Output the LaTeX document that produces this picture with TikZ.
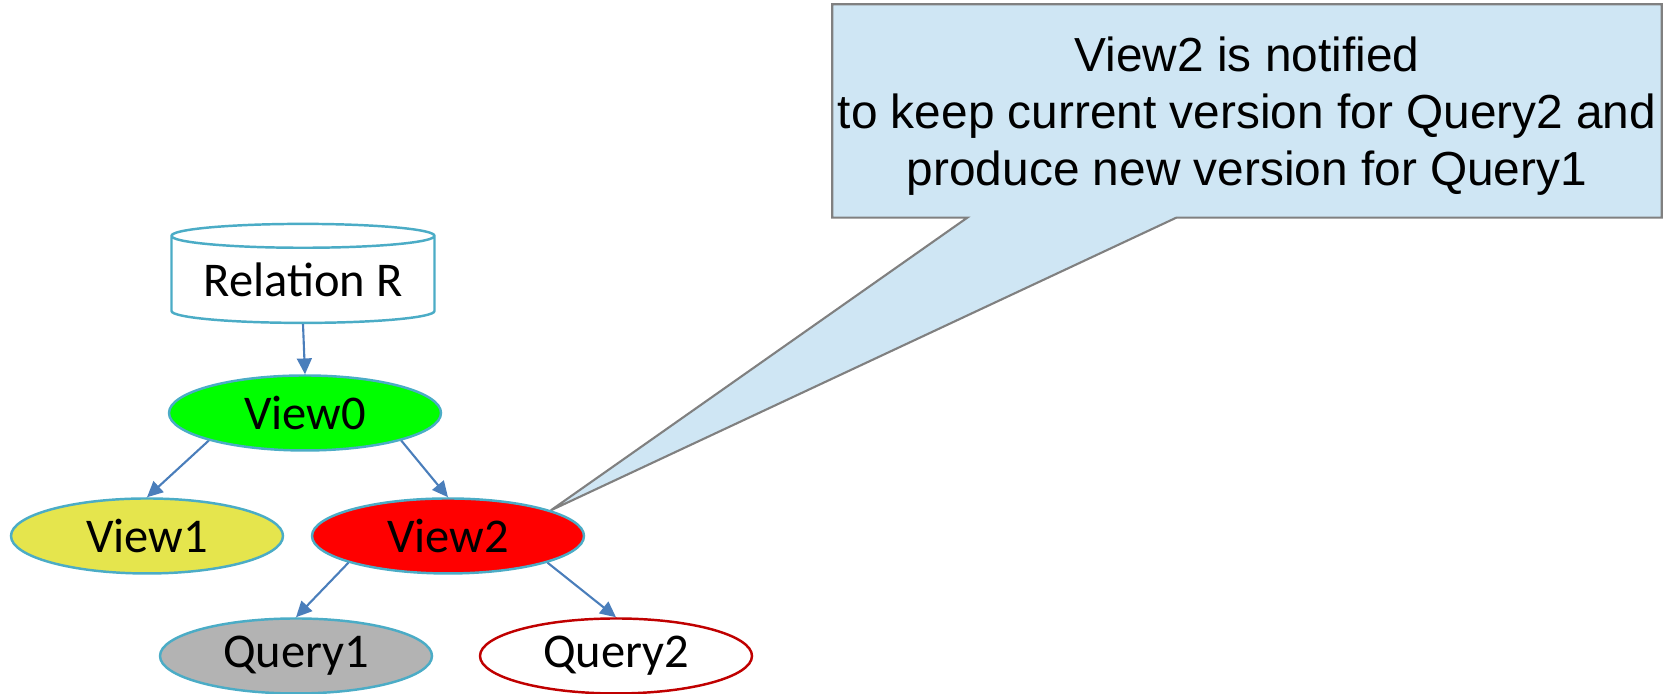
\documentclass[tikz,border=0pt]{standalone}
\usepackage{fontspec}
\usepackage{xcolor}
\usepackage{tikz}
\usetikzlibrary{shapes.geometric, arrows.meta, positioning, backgrounds}
\newfontfamily\labelfont{Carlito}
\newfontfamily\notefont{Liberation Sans}
\definecolor{edgeteal}{HTML}{4BACC6}
\definecolor{flowblue}{HTML}{4A7EBB}
\definecolor{viewgreen}{HTML}{00FF00}
\definecolor{viewyellow}{HTML}{E5E54D}
\definecolor{viewred}{HTML}{FF0000}
\definecolor{querygrey}{HTML}{B3B3B3}
\definecolor{querydark}{HTML}{C00000}
\definecolor{notefill}{HTML}{CFE6F4}
\definecolor{noteline}{HTML}{808080}

\begin{document}
\begin{tikzpicture}[
    store/.style={cylinder, shape border rotate=90, aspect=0.12, draw=edgeteal, fill=white, line width=0.7pt, minimum width=2.63cm, minimum height=0.99cm, inner sep=0pt, font=\labelfont\fontsize{13.8pt}{16pt}\selectfont},
    viewnode/.style={ellipse, draw=edgeteal, line width=0.7pt, minimum width=2.72cm, minimum height=0.75cm, inner sep=0pt, font=\labelfont\fontsize{13.8pt}{16pt}\selectfont},
    flow/.style={-{Triangle[length=4.5pt, width=4.2pt]}, draw=flowblue, line width=0.6pt},
    note/.style={align=center, inner sep=0pt, minimum width=8.28cm, minimum height=2.12cm, font=\notefont\fontsize{13.6pt}{16.2pt}\selectfont},
]
\useasboundingbox (0,0) rectangle (16.79,6.94);

% Source relation and views
\node[store] (relation) at (3.03,4.14) {Relation R};

\node[viewnode, fill=viewgreen] (view0) at (3.05,2.81) {View0};

\node[viewnode, fill=viewyellow] (view1) at (1.47,1.58) {View1};

\node[viewnode, fill=viewred] (view2) at (4.48,1.58) {View2};

% Queries
\node[viewnode, fill=querygrey] (query1) at (2.96,0.38) {Query1};

\node[viewnode, draw=querydark, fill=white] (query2) at (6.16,0.38) {Query2};

% Dependencies
\draw[flow] (relation.south) -- (view0.north);
\draw[flow] (view0.196) -- (view1.north);
\draw[flow] (view0.344) -- (view2.north);
\draw[flow] (view2.195) -- (query1.north);
\draw[flow] (view2.345) -- (query2.north);

% Notification callout
\node[note] (notice) at (12.47,5.83) {\rule{0pt}{13pt}View2 is notified\\to keep current version for Query2 and\\produce new version for Query1};

\begin{scope}[on background layer]
\draw[draw=noteline, fill=notefill, line width=0.6pt] (notice.north west) -- (notice.north east) -- (notice.south east) -- ([xshift=3.44cm]notice.south west) -- (view2.14) -- ([xshift=1.35cm]notice.south west) -- (notice.south west) -- cycle;
\end{scope}

\end{tikzpicture}
\end{document}
